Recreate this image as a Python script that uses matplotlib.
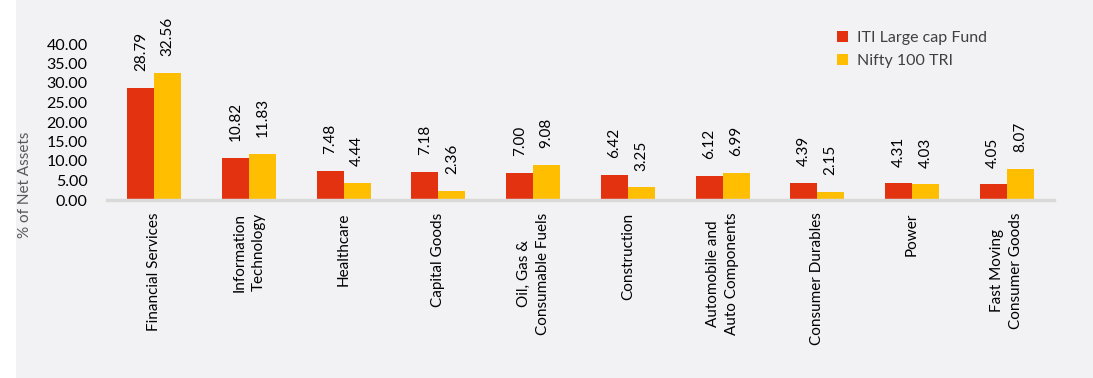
import matplotlib
matplotlib.use("Agg")
import matplotlib.pyplot as plt
import numpy as np
from matplotlib.patches import Rectangle

plt.rcParams['font.family'] = ['Lato', 'DejaVu Sans']

categories = ["Financial Services", "Information\nTechnology", "Healthcare", "Capital Goods",
              "Oil, Gas &\nConsumable Fuels", "Construction", "Automobile and\nAuto Components",
              "Consumer Durables", "Power", "Fast Moving\nConsumer Goods"]
fund = [28.79, 10.82, 7.48, 7.18, 7.00, 6.42, 6.12, 4.39, 4.31, 4.05]
index = [32.56, 11.83, 4.44, 2.36, 9.08, 3.25, 6.99, 2.15, 4.03, 8.07]
series_names = ["ITI Large cap Fund", "Nifty 100 TRI"]
yticks = [0, 5, 10, 15, 20, 25, 30, 35, 40]

bg = "#F2F2F4"
red = "#E2320F"
yellow = "#FFBF00"

fig = plt.figure(figsize=(10.93, 3.78), dpi=100, facecolor=bg)
fig.patches.append(Rectangle((0, 0), 16/1093, 1, transform=fig.transFigure,
                             facecolor="white", edgecolor="none", zorder=-10))
ax = fig.add_axes([107/1093, 1-200/378, 947/1093, 156/378])
ax.set_facecolor(bg)

x = np.arange(len(categories))
w = 0.285
b1 = ax.bar(x - w/2, fund, w, color=red, label=series_names[0])
b2 = ax.bar(x + w/2, index, w, color=yellow, label=series_names[1])

for bars, vals in ((b1, fund), (b2, index)):
    for r, v in zip(bars, vals):
        ax.annotate(f"{v:.2f}", (r.get_x() + r.get_width()/2, v), xytext=(0, 12),
                    textcoords="offset points", rotation=90, ha="center", va="bottom",
                    fontsize=11, color="#000000", annotation_clip=False)

ax.set_xlim(-0.5, len(categories) - 0.5)
ax.set_ylim(0, 40)
ax.set_yticks(yticks)
ax.set_yticklabels([f"{t:.2f}" for t in yticks], fontsize=11.5, color="#000000")
ax.set_xticks(x)
ax.set_xticklabels(categories, rotation=90, fontsize=11, color="#000000",
                   ha="center", va="top", multialignment="center", linespacing=1.45)
ax.tick_params(axis="both", length=0)
ax.tick_params(axis="x", pad=9)
ax.tick_params(axis="y", pad=14)
for s in ("top", "right", "left"):
    ax.spines[s].set_visible(False)
ax.spines["bottom"].set_color("#D9D9D9")
ax.spines["bottom"].set_linewidth(2.5)

fig.text(25/1093, 1-185/378, "% of Net Assets", rotation=90, ha="center", va="center",
         fontsize=11, color="#595959")

leg = ax.legend(loc="upper left", bbox_to_anchor=(823/1093, 1-17/378),
                bbox_transform=fig.transFigure, frameon=False, fontsize=11.5,
                handlelength=0.65, handleheight=0.65, handletextpad=0.6, labelspacing=0.55)
for t in leg.get_texts():
    t.set_color("#404040")

fig.savefig("out.png", dpi=100, facecolor=bg)
